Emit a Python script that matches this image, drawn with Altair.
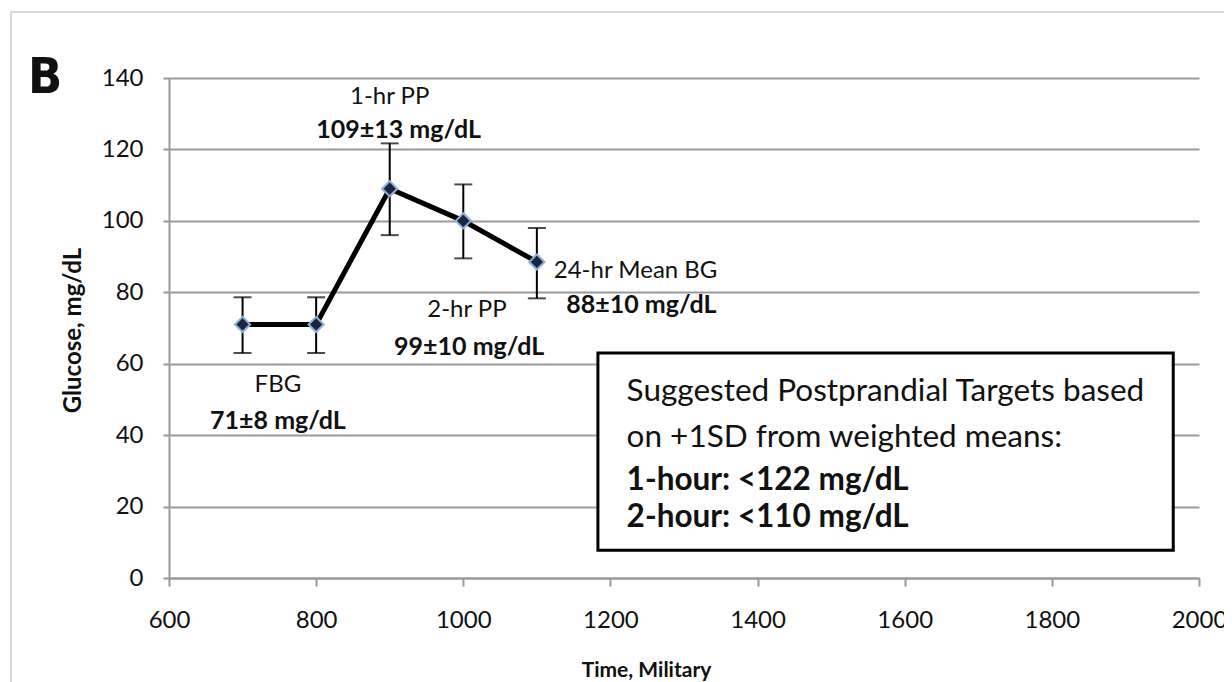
import altair as alt
import pandas as pd

# ---- data ----
times = [700, 800, 900, 1000, 1100]
glucose = [71, 71, 109, 100, 88.5]
err_low = [63, 63, 96, 89.5, 78.3]
err_high = [78.6, 78.6, 121.7, 110.2, 98]

x_ticks = [600, 800, 1000, 1200, 1400, 1600, 1800, 2000]
y_ticks = [0, 20, 40, 60, 80, 100, 120, 140]

# annotation labels (data coordinates)
norm_labels = ["1-hr PP", "FBG", "2-hr PP"]
norm_x = [900, 748, 1005]
norm_y = [134.7, 54, 75]
bold_labels = ["109±13 mg/dL", "71±8 mg/dL", "99±10 mg/dL"]
bold_x = [912, 748, 1008]
bold_y = [125.4, 44, 64.7]
left_norm_labels = ["24-hr Mean BG"]
left_norm_x = [1123]
left_norm_y = [86]
left_bold_labels = ["88±10 mg/dL"]
left_bold_x = [1140]
left_bold_y = [76.5]

box_x = [1183]
box_x2 = [1965]
box_y = [7.8]
box_y2 = [63]
box_lines = ["Suggested Postprandial Targets based", "on +1SD from weighted means:",
             "1-hour: <122 mg/dL", "2-hour: <110 mg/dL"]
box_line_bold = [False, False, True, True]
box_line_x = [1222, 1222, 1222, 1222]
box_line_y = [52.1, 39.2, 27.2, 16.8]

FONT = "Lato"

df = pd.DataFrame({"t": times, "g": glucose, "lo": err_low, "hi": err_high})

xs = alt.Scale(domain=[600, 2000], nice=False, zero=False)
ys = alt.Scale(domain=[0, 140], nice=False)

X = alt.X("t:Q", scale=xs, axis=alt.Axis(
    values=x_ticks, grid=False, format="d", title="Time, Military", titleFont=FONT,
    titleFontSize=21, titleFontWeight="bold", titleColor="#111", titleX=477, titleY=81,
    titleBaseline="top",
    labelFont=FONT, labelFontSize=24, labelColor="#111", labelPadding=22,
    domainColor="#999", domainWidth=2, tickColor="#999", tickWidth=2, tickSize=8,
    labelFlush=False))
Y = alt.Y("g:Q", scale=ys, axis=alt.Axis(
    values=y_ticks, grid=True, gridColor="#9a9a9a", gridWidth=2, format="d",
    title="Glucose, mg/dL", titleFont=FONT, titleFontSize=24, titleFontWeight="bold",
    titleColor="#111", titleX=-84, titleY=252, titleAngle=-90,
    labelFont=FONT, labelFontSize=24, labelColor="#111", labelPadding=20,
    domainColor="#999", domainWidth=2, tickColor="#999", tickWidth=2, tickSize=6))

base = alt.Chart(df)

frame = alt.Chart(pd.DataFrame({"a": [0]})).mark_rect(
    fill="transparent", stroke="#d8d8d8", strokeWidth=2).encode(
    x=alt.value(-158), x2=alt.value(1061), y=alt.value(-66), y2=alt.value(640))

letter = alt.Chart(pd.DataFrame({"s": ["B"]})).mark_text(
    font="'DejaVu Sans Condensed', 'DejaVu Sans', sans-serif", fontSize=50,
    fontWeight="bold", align="left", baseline="middle", color="#111").encode(
    text="s:N", x=alt.value(-141), y=alt.value(0))

line = base.mark_line(color="black", strokeWidth=5).encode(x=X, y=Y)
bars = base.mark_rule(color="black", strokeWidth=2).encode(x="t:Q", y="lo:Q", y2="hi:Q")
cap_lo = base.mark_tick(color="black", thickness=2, size=18, orient="horizontal").encode(x="t:Q", y="lo:Q")
cap_hi = base.mark_tick(color="black", thickness=2, size=18, orient="horizontal").encode(x="t:Q", y="hi:Q")
pts = base.mark_point(shape="diamond", filled=True, fill="#1c2540", stroke="#8eaedb",
                      strokeWidth=2, size=230, opacity=1).encode(x="t:Q", y="g:Q")

def txt(labels, xv, yv, bold, align, size):
    d = pd.DataFrame({"s": labels, "x": xv, "y": yv})
    return alt.Chart(d).mark_text(font=FONT, fontSize=size,
                                  fontWeight="bold" if bold else "normal",
                                  align=align, baseline="middle", color="#111").encode(
        x=alt.X("x:Q", scale=xs), y=alt.Y("y:Q", scale=ys), text="s:N")

t1 = txt(norm_labels, norm_x, norm_y, False, "center", 24)
t2 = txt(bold_labels, bold_x, bold_y, True, "center", 25)
t3 = txt(left_norm_labels, left_norm_x, left_norm_y, False, "left", 24)
t4 = txt(left_bold_labels, left_bold_x, left_bold_y, True, "left", 25)

box = alt.Chart(pd.DataFrame({"x": box_x, "x2": box_x2, "y": box_y, "y2": box_y2})).mark_rect(
    fill="white", stroke="black", strokeWidth=3).encode(
    x=alt.X("x:Q", scale=xs), x2="x2:Q", y=alt.Y("y:Q", scale=ys), y2="y2:Q")

bl_n = [s for s, b in zip(box_lines, box_line_bold) if not b]
bl_b = [s for s, b in zip(box_lines, box_line_bold) if b]
bx_n = [x for x, b in zip(box_line_x, box_line_bold) if not b]
bx_b = [x for x, b in zip(box_line_x, box_line_bold) if b]
by_n = [y for y, b in zip(box_line_y, box_line_bold) if not b]
by_b = [y for y, b in zip(box_line_y, box_line_bold) if b]
bt1 = txt(bl_n, bx_n, by_n, False, "left", 31.5)
bt2 = txt(bl_b, bx_b, by_b, True, "left", 31.5)

chart = alt.layer(line, frame, letter, bars, cap_lo, cap_hi, pts, t1, t2, t3, t4,
                  box, bt1, bt2).properties(
    width=1030, height=500,
    autosize=alt.AutoSizeParams(type="none"),
    padding={"left": 161, "top": 70, "right": 25, "bottom": 104},
    background="white",
).configure_view(stroke=None)

chart.save("out.html", embed_options={"renderer": "svg", "actions": False})
